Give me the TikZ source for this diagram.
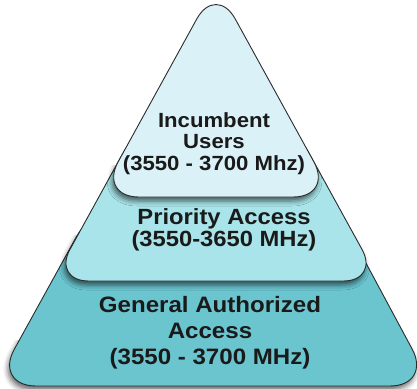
\documentclass[tikz,border=0pt]{standalone}
\usepackage{fontspec}
\newfontfamily\layerfont[FakeStretch=1.08]{Liberation Sans}
\usetikzlibrary{shadows.blur}
\definecolor{incumbentfill}{HTML}{D9F1F7}
\definecolor{priorityfill}{HTML}{A8E4E9}
\definecolor{generalfill}{HTML}{6AC5CF}
\definecolor{layerline}{HTML}{2B2B2B}
\definecolor{layertext}{HTML}{1A1A1A}

\begin{document}
\begin{tikzpicture}[x=1pt, y=-1pt]
%------------------------------------------------------------------------------------------------
% Layer styles and outlines

    \tikzset{layer/.style={draw=layerline, line width=0.9pt},
        layer shadow/.style={blur shadow={shadow xshift=-1.5pt, shadow yshift=-4pt,
            shadow blur radius=5pt, shadow opacity=60}},
        layer text/.style={text=layertext, align=center, inner sep=0pt}
    }
    \useasboundingbox (0,0) rectangle (417,388);
    \def\generalpath{[rounded corners=42pt] (213,386) -- (432,386) -- (332.1,200) -- (96.7,200) -- (-6,386) -- cycle}
    \def\prioritypath{[rounded corners=36pt] (216,281) -- (379.4,281) -- (290.8,120) -- (141.2,120) -- (52.6,281) -- cycle}
    \def\incumbentpath{[rounded corners=40pt] (216,197) -- (333.2,197) -- (216,-16) -- (98.8,197) -- cycle}
%------------------------------------------------------------------------------------------------
% bottom layer
    \begin{scope}
        \clip (0,340) rectangle (417,400);
        \path[layer shadow] \generalpath;
    \end{scope}
    \path[layer, fill=generalfill] \generalpath;
% middle layer
    \begin{scope}
        \clip (0,235) rectangle (417,400);
        \path[layer shadow] \prioritypath;
    \end{scope}
    \path[layer, fill=priorityfill] \prioritypath;
% top layer
    \begin{scope}
        \clip (0,165) rectangle (417,400);
        \path[layer shadow] \incumbentpath;
    \end{scope}
    \path[layer, fill=incumbentfill] \incumbentpath;
%------------------------------------------------------------------------------------------------
    \node[layer text, font=\layerfont\bfseries\fontsize{20.5}{21.5}\selectfont] (incumbent) at (214,143.3)
        {Incumbent\\Users\\(3550 - 3700 Mhz)};
    \node[layer text, font=\layerfont\bfseries\fontsize{22}{22}\selectfont] (priority) at (224,230.3)
        {Priority Access\\(3550-3650 MHz)};
    \node[layer text, font=\layerfont\bfseries\fontsize{22.3}{26}\selectfont] (general) at (210,333.2)
        {General Authorized\\Access\\(3550 - 3700 MHz)};

\end{tikzpicture}
\end{document}
